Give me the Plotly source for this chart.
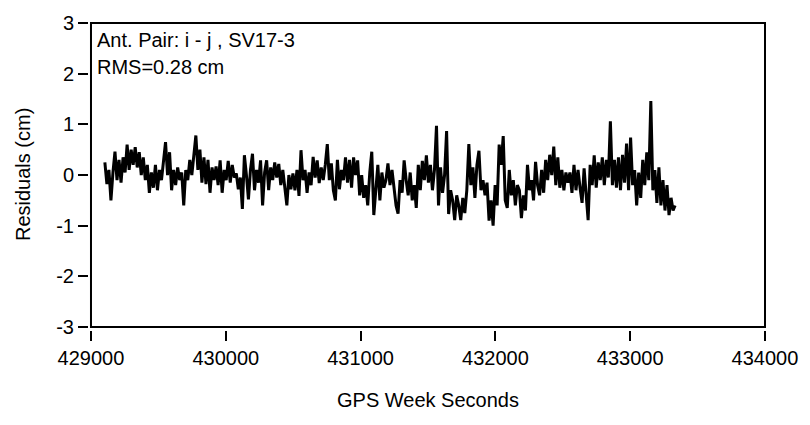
import numpy as np
import plotly.graph_objects as go

# Double-difference carrier-phase residuals, antenna pair i - j, SV17-3
t_start = 429103.0      # first epoch (GPS week seconds)
t_step = 15.0           # sampling interval (s)

residuals_cm = [
    0.25, -0.18, 0.1, -0.5, 0.05,
    0.46, -0.1, 0.3, -0.15, 0.35,
    0.05, 0.6, 0.1, 0.5, 0.2,
    0.55, 0.15, 0.45, 0.0, 0.35,
    -0.1, 0.2, -0.35, 0.05, -0.25,
    0.2, -0.3, 0.1, -0.1, 0.25,
    0.65, 0.0, 0.45, -0.3, 0.1,
    -0.2, 0.15, -0.1, 0.05, -0.6,
    0.1, -0.1, 0.3, 0.0, 0.35,
    0.78, 0.1, 0.5, -0.15, 0.35,
    -0.18, 0.3, -0.35, 0.15, -0.1,
    0.17, -0.2, 0.29, -0.35, 0.1,
    -0.1, 0.28, -0.15, 0.2, -0.05,
    0.03, -0.28, -0.05, -0.67, 0.39,
    0.0, -0.48, 0.1, 0.42, -0.3,
    0.1, -0.15, 0.29, -0.6, 0.05,
    0.29, -0.3, 0.15, -0.1, 0.25,
    -0.05, 0.22, -0.2, 0.1, -0.25,
    -0.6, 0.0, -0.28, 0.03, -0.3,
    0.1, -0.41, 0.49, -0.1, 0.1,
    -0.35, 0.05, -0.2, 0.36, -0.05,
    0.29, -0.16, 0.15, -0.1, 0.2,
    0.61, -0.1, 0.23, -0.3, -0.5,
    0.3, -0.28, 0.1, -0.1, 0.35,
    -0.15, 0.3, -0.25, 0.35, 0.0,
    0.29, -0.4, 0.0, -0.45, -0.2,
    -0.6, 0.05, 0.46, -0.79, -0.2,
    0.2, -0.5, 0.05, -0.25, -0.1,
    0.23, -0.2, 0.1, -0.25, -0.6,
    -0.76, -0.1, -0.35, 0.29, -0.1,
    -0.4, 0.05, -0.5, -0.2, -0.65,
    0.2, -0.3, 0.28, -0.1, 0.39,
    -0.15, 0.2, -0.3, 0.1, 0.97,
    -0.6, 0.15, -0.35, 0.0, 0.87,
    -0.77, -0.3, -0.5, -0.89, -0.4,
    -0.6, -0.89, -0.45, -0.75, -0.3,
    0.61, -0.2, 0.15, -0.45, 0.2,
    0.48, -0.3, -0.1, -0.4, -0.15,
    -0.9, -0.5, -1.0, -0.2, -0.6,
    0.6, 0.2, 0.77, -0.5, -0.65,
    0.1, -0.4, -0.1, -0.6, -0.2,
    -0.3, -0.85, -0.4, -0.7, 0.2,
    -0.3, -0.1, -0.5, 0.26, -0.2,
    -0.4, 0.1, -0.35, 0.3, -0.1,
    0.4, 0.0, 0.56, -0.2, 0.35,
    -0.25, 0.1, -0.3, 0.05, -0.15,
    0.05, -0.35, 0.2, -0.3, 0.1,
    -0.25, -0.55, 0.13, -0.3, -0.89,
    0.2, -0.2, 0.39, -0.25, 0.25,
    -0.1, 0.35, -0.2, 0.3, -0.05,
    1.06, -0.2, 0.3, -0.25, 0.35,
    -0.3, 0.4, -0.15, 0.62, -0.3,
    0.74, -0.2, 0.1, -0.6, 0.05,
    -0.45, 0.3, -0.2, 0.45, -0.1,
    1.46, -0.3, 0.1, -0.55, 0.15,
    -0.6, -0.1, -0.7, -0.2, -0.79,
    -0.45, -0.7, -0.6,
]

x_ticks = [429000, 430000, 431000, 432000, 433000, 434000]
y_ticks = [-3, -2, -1, 0, 1, 2, 3]

label_line1 = "Ant. Pair: i - j , SV17-3"
label_line2 = "RMS=0.28 cm"
x_title = "GPS Week Seconds"
y_title = "Residuals (cm)"

gps_seconds = t_start + t_step * np.arange(len(residuals_cm))

FONT = "Liberation Sans, Arial, sans-serif"
FS = 20
W, H = 810, 425
ML, MR, MT, MB = 88, 42, 15, 95
gap_x = 3 / (W - ML - MR)
gap_y = 3 / (H - MT - MB)

fig = go.Figure()
fig.add_trace(go.Scatter(
    x=gps_seconds, y=residuals_cm, mode="lines",
    line=dict(color="black", width=3),
    showlegend=False, hoverinfo="x+y",
))

axis_common = dict(
    showgrid=False, zeroline=False, showline=False,
    ticks="outside", ticklen=10, tickwidth=2, tickcolor="black",
    tickfont=dict(family=FONT, size=FS, color="black"),
)

fig.update_layout(
    width=W, height=H,
    margin=dict(l=ML, r=MR, t=MT, b=MB),
    paper_bgcolor="white", plot_bgcolor="white",
    xaxis=dict(range=[429000, 434000], tickvals=x_ticks,
               ticktext=[str(v) for v in x_ticks],
               domain=[gap_x, 1], anchor="free", position=0, **axis_common),
    yaxis=dict(range=[-3, 3], tickvals=y_ticks,
               ticktext=[str(v) for v in y_ticks],
               domain=[gap_y, 1], anchor="free", position=0, **axis_common),
    shapes=[dict(type="rect", xref="x domain", yref="y domain",
                 x0=0, x1=1, y0=0, y1=1,
                 line=dict(color="black", width=2), layer="above")],
    annotations=[
        dict(text=label_line1, xref="x domain", yref="y domain", x=0.006, y=0.945,
             xanchor="left", yanchor="middle", showarrow=False,
             font=dict(family=FONT, size=FS, color="black")),
        dict(text=label_line2, xref="x domain", yref="y domain", x=0.006, y=0.855,
             xanchor="left", yanchor="middle", showarrow=False,
             font=dict(family=FONT, size=FS, color="black")),
        dict(text=x_title, xref="x domain", yref="paper", x=0.5, y=-0.229,
             xanchor="center", yanchor="middle", showarrow=False,
             font=dict(family=FONT, size=FS, color="black")),
        dict(text=y_title, xref="paper", yref="y domain", x=-0.096, y=0.5,
             xanchor="center", yanchor="middle", showarrow=False, textangle=-90,
             font=dict(family=FONT, size=FS, color="black")),
    ],
)

fig.write_html("out.html")
